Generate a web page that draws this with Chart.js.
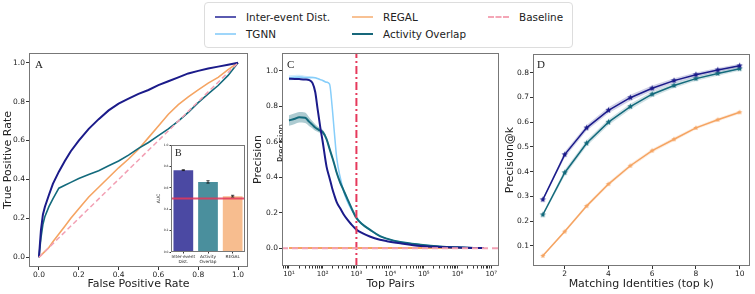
<!DOCTYPE html>
<html>
<head>
<meta charset="utf-8">
<script src="https://cdn.jsdelivr.net/npm/chart.js@4.4.1/dist/chart.umd.min.js"></script>
<style>
  body { margin: 0; background: #fff; width: 755px; height: 294px; position: relative; overflow: hidden; font-family: "DejaVu Sans", sans-serif; }
  canvas { position: absolute; }
  #legend { position: absolute; left: 204px; top: 2px; width: 367px; height: 44px; border: 1px solid #ddd; border-radius: 4px; background: #fff; }
  .item { position: absolute; font-size: 10.4px; line-height: 12px; color: #222; white-space: nowrap; }
  .item i { position: absolute; left: -31px; top: 5px; width: 21px; height: 0; border-top: 2px solid; }
</style>
</head>
<body>
<div id="legend"></div>
<canvas id="chartA" width="255" height="249" style="left:0;top:45px"></canvas>
<canvas id="chartB" width="100" height="130" style="left:150px;top:140px"></canvas>
<canvas id="chartC" width="255" height="249" style="left:250px;top:45px"></canvas>
<canvas id="chartD" width="255" height="249" style="left:500px;top:45px"></canvas>
<script>
// legend
const legendLabels = ['Inter-event Dist.', 'TGNN', 'REGAL', 'Activity Overlap', 'Baseline'];
const legendColors = ['#5a5ab0', '#9fd6fa', '#f8c193', '#17677a', '#f4a6b6'];

// A: ROC curves
const fpr = [0, 0.01, 0.02, 0.03, 0.05, 0.07, 0.1, 0.13, 0.16, 0.2, 0.25, 0.3, 0.35, 0.4, 0.45, 0.5, 0.55, 0.6, 0.65, 0.7, 0.75, 0.8, 0.85, 0.9, 0.95, 1.0];
const rocInter = [0, 0.14, 0.22, 0.26, 0.32, 0.377, 0.44, 0.495, 0.545, 0.60, 0.66, 0.71, 0.755, 0.79, 0.815, 0.84, 0.86, 0.885, 0.905, 0.925, 0.945, 0.958, 0.97, 0.98, 0.99, 1.0];
const rocActivity = [0, 0.10, 0.17, 0.21, 0.26, 0.30, 0.355, 0.37, 0.385, 0.405, 0.425, 0.445, 0.47, 0.495, 0.525, 0.56, 0.59, 0.625, 0.66, 0.70, 0.745, 0.795, 0.84, 0.883, 0.935, 1.0];
const rocRegal = [0, 0.01, 0.02, 0.03, 0.05, 0.08, 0.12, 0.16, 0.2, 0.25, 0.31, 0.36, 0.41, 0.46, 0.505, 0.555, 0.615, 0.675, 0.735, 0.785, 0.825, 0.86, 0.895, 0.925, 0.965, 1.0];
const rocBaseX = [0, 1];
const rocBaseY = [0, 1];
const unitTicks = [0, 0.2, 0.4, 0.6, 0.8, 1.0];

// B: AUC inset
const bLabels = [['Inter-event', 'Dist.'], ['Activity', 'Overlap'], 'REGAL'];
const bAuc = [0.765, 0.655, 0.522];
const bErr = [0.004, 0.011, 0.008];
const bChance = 0.5;

// C: precision vs top pairs
const topPairs = [10, 15, 20, 30, 40, 50, 60, 70, 85, 100, 130, 160, 190, 220, 260, 330, 420, 520, 700, 1000, 1500, 2500, 5000, 8000, 20000, 80000, 300000, 1000000, 3000000, 6000000];
const cInter = [0.955, 0.954, 0.953, 0.951, 0.947, 0.930, 0.880, 0.790, 0.680, 0.600, 0.460, 0.395, 0.340, 0.300, 0.260, 0.225, 0.190, 0.165, 0.135, 0.105, 0.085, 0.066, 0.048, 0.040, 0.028, 0.013, 0.007, 0.004, 0.002, 0.001];
const cTgnn = [0.960, 0.963, 0.965, 0.962, 0.962, 0.962, 0.960, 0.956, 0.950, 0.945, 0.935, 0.925, 0.800, 0.660, 0.510, 0.400, 0.320, 0.270, 0.220, 0.175, 0.135, 0.105, 0.068, 0.054, 0.035, 0.020, 0.010, 0.005, 0.002, 0.001];
const cTgnnErr = [0.015, 0.013, 0.012, 0.010, 0.008, 0.006, 0.005, 0.004, 0.004, 0.004, 0.004, 0.004, 0.004, 0.004, 0.004, 0.004, 0.003, 0.003, 0.003, 0.003, 0.002, 0.002, 0.002, 0.001, 0.001, 0.001, 0.001, 0.001, 0.001, 0.001];
const cActivity = [0.720, 0.730, 0.738, 0.735, 0.712, 0.695, 0.680, 0.672, 0.662, 0.655, 0.615, 0.560, 0.515, 0.475, 0.425, 0.370, 0.325, 0.285, 0.230, 0.170, 0.135, 0.105, 0.068, 0.054, 0.035, 0.020, 0.010, 0.005, 0.002, 0.001];
const cActivityErr = [0.030, 0.030, 0.030, 0.030, 0.025, 0.020, 0.018, 0.015, 0.013, 0.012, 0.012, 0.012, 0.012, 0.012, 0.012, 0.010, 0.010, 0.008, 0.008, 0.006, 0.005, 0.004, 0.003, 0.003, 0.002, 0.002, 0.001, 0.001, 0.001, 0.001];
const cRegal = [0.002, 0.002, 0.002, 0.002, 0.002, 0.002, 0.002, 0.002, 0.002, 0.002, 0.002, 0.002, 0.002, 0.002, 0.002, 0.002, 0.002, 0.002, 0.002, 0.002, 0.002, 0.002, 0.002, 0.002, 0.001, 0.001, 0.001, 0.001, 0.001, 0.001];
const cCutoff = 1000;
const cBaseline = 0;
const cYTicks = [0, 0.2, 0.4, 0.6, 0.8, 1.0];
const cXLabels = ['10¹', '10²', '10³', '10⁴', '10⁵', '10⁶', '10⁷'];

// D: precision@k
const topK = [1, 2, 3, 4, 5, 6, 7, 8, 9, 10];
const dInter = [0.287, 0.469, 0.577, 0.648, 0.699, 0.737, 0.768, 0.792, 0.811, 0.828];
const dInterErr = [0.006, 0.012, 0.012, 0.012, 0.012, 0.011, 0.010, 0.009, 0.008, 0.008];
const dActivity = [0.226, 0.396, 0.515, 0.600, 0.663, 0.713, 0.748, 0.776, 0.797, 0.816];
const dActivityErr = [0.006, 0.012, 0.012, 0.012, 0.012, 0.011, 0.010, 0.009, 0.009, 0.008];
const dRegal = [0.060, 0.158, 0.261, 0.350, 0.424, 0.485, 0.531, 0.577, 0.610, 0.640];
const dRegalErr = [0.004, 0.006, 0.007, 0.008, 0.008, 0.008, 0.008, 0.007, 0.007, 0.007];
const dXTicks = [2, 4, 6, 8, 10];
const dYTicks = [0.1, 0.2, 0.3, 0.4, 0.5, 0.6, 0.7, 0.8];

const NAVY = '#1b1b8a', SKY = '#87cefa', TEAL = '#136a7c', ORANGE = '#f5a462', PINK = '#f2a0b4';
const FAM = '"DejaVu Sans", sans-serif';

Chart.defaults.font.family = FAM;
Chart.defaults.animation = false;
Chart.defaults.plugins.legend.display = false;
Chart.defaults.plugins.tooltip.enabled = false;

// legend boxes
const legendEl = document.getElementById('legend');
const legendPos = [[41, 8], [41, 25], [178, 8], [178, 25], [314, 8]];
legendLabels.forEach((txt, i) => {
  const d = document.createElement('div');
  d.className = 'item';
  d.style.left = legendPos[i][0] + 'px';
  d.style.top = legendPos[i][1] + 'px';
  const dash = txt === 'Baseline' ? 'dashed' : 'solid';
  d.innerHTML = `<i style="border-top-color:${legendColors[i]};border-top-style:${dash}"></i>${txt}`;
  legendEl.appendChild(d);
});

// frame, white axes background and panel letter
const framePlugin = {
  id: 'frame',
  beforeDraw(chart, args, opts) {
    const a = chart.chartArea, c = chart.ctx;
    if (opts.fill) {
      c.save(); c.fillStyle = '#fff';
      c.fillRect(a.left, a.top, a.right - a.left, a.bottom - a.top);
      c.restore();
    }
  },
  afterDraw(chart, args, opts) {
    const a = chart.chartArea, c = chart.ctx;
    c.save();
    c.strokeStyle = '#777'; c.lineWidth = 1;
    c.strokeRect(Math.round(a.left) + 0.5, Math.round(a.top) + 0.5, Math.round(a.right - a.left) - 1, Math.round(a.bottom - a.top) - 1);
    if (opts.letter) {
      c.font = opts.size + 'px "Liberation Serif", serif';
      c.fillStyle = '#222';
      c.textBaseline = 'alphabetic';
      c.fillText(opts.letter, a.left + opts.dx, a.top + opts.dy);
    }
    c.restore();
  }
};

function axis(opts) {
  const o = {
    type: opts.type || 'linear',
    min: opts.min, max: opts.max,
    afterFit: s => { if (opts.w !== undefined) s.width = opts.w; if (opts.h !== undefined) s.height = opts.h; },
    ticks: { font: { size: opts.fs || 7.5 }, color: '#222', padding: opts.pad === undefined ? 1 : opts.pad, autoSkip: false, maxRotation: 0 },
    grid: { drawOnChartArea: false, tickLength: opts.tl || 3, tickColor: '#333', offset: false },
    border: { display: false },
    title: { display: !!opts.title, text: opts.title, font: { size: opts.tfs || 11 }, color: '#222', padding: opts.tpad }
  };
  if (opts.cb) o.ticks.callback = opts.cb;
  if (opts.ticksList) o.afterBuildTicks = s => { s.ticks = opts.ticksList.map(v => ({ value: v })); };
  return o;
}

function xy(xs, ys) { return xs.map((x, i) => ({ x, y: ys[i] })); }
function band(xs, ys, es, sign) { return xs.map((x, i) => ({ x, y: ys[i] + sign * es[i] })); }

function starImg(color, r) {
  const s = Math.ceil(r * 2) + 2;
  const cv = document.createElement('canvas');
  cv.width = cv.height = s;
  const c = cv.getContext('2d');
  c.fillStyle = color;
  c.beginPath();
  for (let i = 0; i < 10; i++) {
    const rr = i % 2 ? r * 0.45 : r;
    const ang = -Math.PI / 2 + i * Math.PI / 5;
    c.lineTo(s / 2 + rr * Math.cos(ang), s / 2 + rr * Math.sin(ang));
  }
  c.closePath(); c.fill();
  return cv;
}

const lineBase = { pointRadius: 0, fill: false, tension: 0 };

// Panel A
new Chart(document.getElementById('chartA'), {
  type: 'line',
  data: {
    datasets: [
      { ...lineBase, data: xy(rocBaseX, rocBaseY), borderColor: PINK, borderWidth: 1.5, borderDash: [5, 3] },
      { ...lineBase, data: xy(fpr, rocInter), borderColor: NAVY, borderWidth: 2 },
      { ...lineBase, data: xy(fpr, rocActivity), borderColor: TEAL, borderWidth: 1.6 },
      { ...lineBase, data: xy(fpr, rocRegal), borderColor: ORANGE, borderWidth: 1.6 }
    ]
  },
  options: {
    responsive: false,
    layout: { padding: { left: 0, right: 7, top: 8, bottom: 0 } },
    scales: {
      x: axis({ min: -0.05, max: 1.05, h: 27, ticksList: unitTicks, cb: v => v.toFixed(1), title: 'False Positive Rate', tpad: { top: 0, bottom: 3 } }),
      y: axis({ min: -0.05, max: 1.05, w: 29, ticksList: unitTicks, cb: v => v.toFixed(1), title: 'True Positive Rate', tpad: { top: 2, bottom: 0 } })
    },
    plugins: { frame: { letter: 'A', size: 11, dx: 6, dy: 15 } }
  },
  plugins: [framePlugin]
});

// Panel B (inset)
const errPlugin = {
  id: 'errbars',
  afterDatasetsDraw(chart) {
    const meta = chart.getDatasetMeta(0), ys = chart.scales.y, c = chart.ctx, a = chart.chartArea;
    c.save();
    const yb = ys.getPixelForValue(bChance);
    c.strokeStyle = 'rgba(228,55,90,0.85)'; c.lineWidth = 2;
    c.beginPath(); c.moveTo(a.left, yb); c.lineTo(a.right, yb); c.stroke();
    c.strokeStyle = '#111'; c.lineWidth = 0.8;
    meta.data.forEach((bar, i) => {
      const t = ys.getPixelForValue(bAuc[i] + bErr[i]), b = ys.getPixelForValue(bAuc[i] - bErr[i]);
      c.beginPath();
      c.moveTo(bar.x, t); c.lineTo(bar.x, b);
      c.moveTo(bar.x - 1.6, t); c.lineTo(bar.x + 1.6, t);
      c.moveTo(bar.x - 1.6, b); c.lineTo(bar.x + 1.6, b);
      c.stroke();
    });
    c.restore();
  }
};
new Chart(document.getElementById('chartB'), {
  type: 'bar',
  data: {
    labels: bLabels,
    datasets: [{ data: bAuc, backgroundColor: ['#4b49a3', '#4a8f9d', '#f7bd8f'], barPercentage: 0.8, categoryPercentage: 1 }]
  },
  options: {
    responsive: false,
    layout: { padding: { left: 0, right: 5, top: 5, bottom: 0 } },
    scales: {
      x: axis({ type: 'category', h: 18, fs: 4.3, tl: 1.5, pad: 0.5 }),
      y: axis({ min: 0, max: 1, w: 21, fs: 3, tl: 1.5, pad: 1, ticksList: unitTicks, cb: v => v.toFixed(1), title: 'AUC', tfs: 4.5, tpad: { top: 6, bottom: 0 } })
    },
    plugins: { frame: { fill: true, letter: 'B', size: 10, dx: 4, dy: 11 } }
  },
  plugins: [framePlugin, errPlugin]
});

// Panel C
const ghostPlugin = {
  id: 'ghost',
  afterDraw(chart) {
    const a = chart.chartArea, c = chart.ctx;
    c.save();
    c.beginPath(); c.rect(0, 0, a.left, chart.height); c.clip();
    c.translate(a.left + 2, 98);
    c.rotate(-Math.PI / 2);
    c.font = '8.5px ' + FAM; c.fillStyle = '#222'; c.textAlign = 'center'; c.textBaseline = 'alphabetic';
    c.fillText('Precision', 0, 0);
    c.restore();
  }
};
const cXMin = 6.2, cXMax = 1.7e7;
const cLogTicks = [];
for (let e = 0; e <= 7; e++) for (let m = 1; m <= 9; m++) { const v = m * Math.pow(10, e); if (v >= cXMin && v <= cXMax) cLogTicks.push(v); }
new Chart(document.getElementById('chartC'), {
  type: 'line',
  data: {
    datasets: [
      { ...lineBase, data: [{ x: cXMin, y: cBaseline }, { x: cXMax, y: cBaseline }], borderColor: PINK, borderWidth: 2, borderDash: [6, 4] },
      { ...lineBase, data: [{ x: cCutoff, y: -0.1 }, { x: cCutoff, y: 1.1 }], borderColor: '#e6395c', borderWidth: 2, borderDash: [8, 3, 2, 3] },
      { ...lineBase, data: xy(topPairs, cInter), borderColor: NAVY, borderWidth: 2, cubicInterpolationMode: 'monotone' },
      { ...lineBase, data: xy(topPairs, cActivity), borderColor: TEAL, borderWidth: 2, cubicInterpolationMode: 'monotone' },
      { ...lineBase, data: band(topPairs, cActivity, cActivityErr, 1), borderWidth: 0, borderColor: 'rgba(0,0,0,0)', cubicInterpolationMode: 'monotone' },
      { ...lineBase, data: band(topPairs, cActivity, cActivityErr, -1), borderWidth: 0, borderColor: 'rgba(0,0,0,0)', fill: '-1', backgroundColor: 'rgba(19,106,124,0.35)', cubicInterpolationMode: 'monotone' },
      { ...lineBase, data: xy(topPairs, cTgnn), borderColor: SKY, borderWidth: 1.5, cubicInterpolationMode: 'monotone' },
      { ...lineBase, data: band(topPairs, cTgnn, cTgnnErr, 1), borderWidth: 0, borderColor: 'rgba(0,0,0,0)', cubicInterpolationMode: 'monotone' },
      { ...lineBase, data: band(topPairs, cTgnn, cTgnnErr, -1), borderWidth: 0, borderColor: 'rgba(0,0,0,0)', fill: '-1', backgroundColor: 'rgba(135,206,250,0.35)', cubicInterpolationMode: 'monotone' },
      { ...lineBase, data: xy(topPairs, cRegal), borderColor: ORANGE, borderWidth: 2 }
    ]
  },
  options: {
    responsive: false,
    layout: { padding: { left: 0, right: 6, top: 8, bottom: 0 } },
    scales: {
      x: axis({ type: 'logarithmic', min: cXMin, max: cXMax, h: 28, ticksList: cLogTicks, fs: 7, tl: 2.5,
        cb: v => { const e = Math.round(Math.log10(v)); return Math.abs(Math.log10(v) - e) < 1e-9 && e >= 1 ? cXLabels[e - 1] : ''; },
        title: 'Top Pairs', tpad: { top: 0, bottom: 3 } }),
      y: axis({ min: -0.1, max: 1.1, w: 32, ticksList: cYTicks, cb: v => v.toFixed(1), title: 'Precision', tpad: { top: 2, bottom: 0 } })
    },
    plugins: { frame: { letter: 'C', size: 11, dx: 5, dy: 15 } }
  },
  plugins: [framePlugin, ghostPlugin]
});

// Panel D
const starNavy = starImg(NAVY, 3.2), starTeal = starImg(TEAL, 3.2), starOrange = starImg(ORANGE, 2.8);
new Chart(document.getElementById('chartD'), {
  type: 'line',
  data: {
    datasets: [
      { ...lineBase, data: xy(topK, dInter), borderColor: NAVY, borderWidth: 1.5, pointRadius: 3, pointStyle: starNavy },
      { ...lineBase, data: band(topK, dInter, dInterErr, 1), borderWidth: 0, borderColor: 'rgba(0,0,0,0)' },
      { ...lineBase, data: band(topK, dInter, dInterErr, -1), borderWidth: 0, borderColor: 'rgba(0,0,0,0)', fill: '-1', backgroundColor: 'rgba(27,27,138,0.2)' },
      { ...lineBase, data: xy(topK, dActivity), borderColor: TEAL, borderWidth: 1.5, pointRadius: 3, pointStyle: starTeal },
      { ...lineBase, data: band(topK, dActivity, dActivityErr, 1), borderWidth: 0, borderColor: 'rgba(0,0,0,0)' },
      { ...lineBase, data: band(topK, dActivity, dActivityErr, -1), borderWidth: 0, borderColor: 'rgba(0,0,0,0)', fill: '-1', backgroundColor: 'rgba(19,106,124,0.2)' },
      { ...lineBase, data: xy(topK, dRegal), borderColor: ORANGE, borderWidth: 1.5, pointRadius: 3, pointStyle: starOrange },
      { ...lineBase, data: band(topK, dRegal, dRegalErr, 1), borderWidth: 0, borderColor: 'rgba(0,0,0,0)' },
      { ...lineBase, data: band(topK, dRegal, dRegalErr, -1), borderWidth: 0, borderColor: 'rgba(0,0,0,0)', fill: '-1', backgroundColor: 'rgba(245,164,98,0.2)' }
    ]
  },
  options: {
    responsive: false,
    layout: { padding: { left: 0, right: 4, top: 9, bottom: 0 } },
    scales: {
      x: axis({ min: 0.55, max: 10.45, h: 28, ticksList: dXTicks, cb: v => String(v), title: 'Matching Identities (top k)', tpad: { top: 0, bottom: 3 } }),
      y: axis({ min: 0.019, max: 0.8755, w: 33, ticksList: dYTicks, cb: v => v.toFixed(1), title: 'Precision@k', tpad: { top: 3.5, bottom: 0 } })
    },
    plugins: { frame: { letter: 'D', size: 11, dx: 4, dy: 14 } }
  },
  plugins: [framePlugin]
});
</script>
</body>
</html>
